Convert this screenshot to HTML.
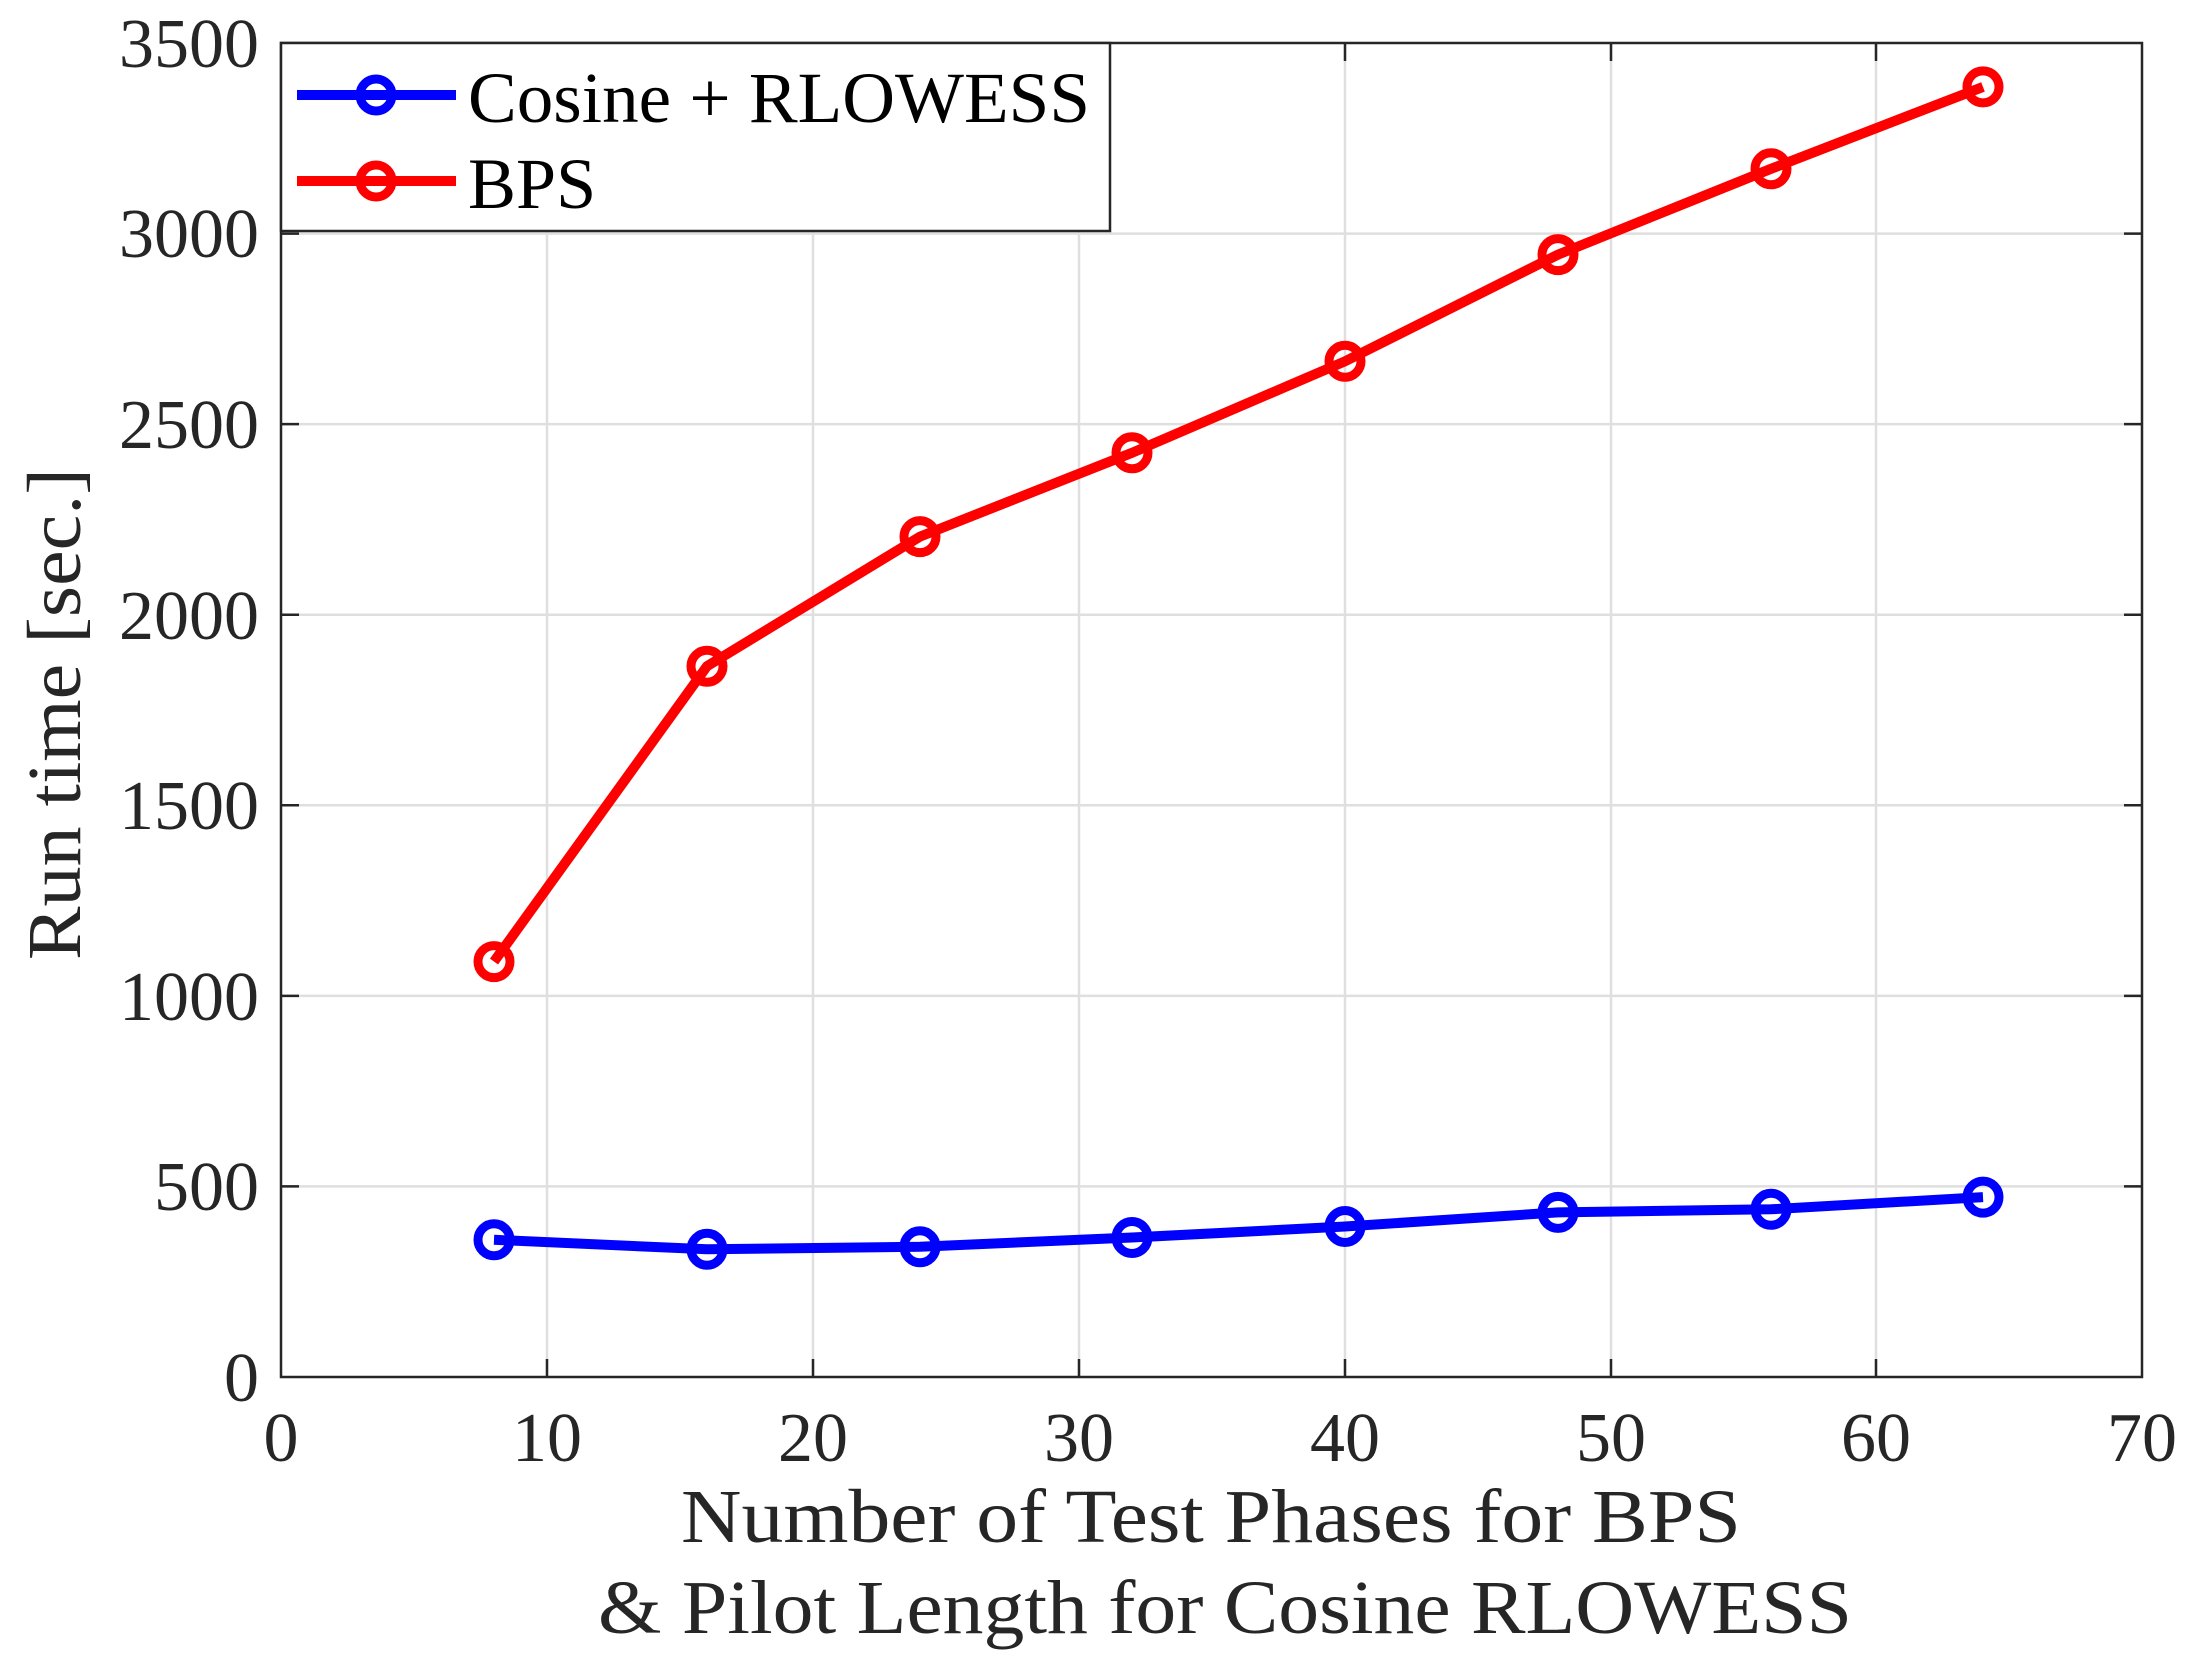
<!DOCTYPE html>
<html><head><meta charset="utf-8"><style>
html,body{margin:0;padding:0;background:#fff}
svg{display:block}
text{font-family:"Liberation Serif",serif;fill:#262626}
</style></head><body>
<svg width="2192" height="1659" viewBox="0 0 2192 1659" xmlns="http://www.w3.org/2000/svg">
<rect x="0" y="0" width="2192" height="1659" fill="#fff"/>
<g stroke="#dfdfdf" stroke-width="2.5">
<line x1="547" y1="43" x2="547" y2="1377"/><line x1="813" y1="43" x2="813" y2="1377"/>
<line x1="1079" y1="43" x2="1079" y2="1377"/><line x1="1345" y1="43" x2="1345" y2="1377"/>
<line x1="1611" y1="43" x2="1611" y2="1377"/><line x1="1876" y1="43" x2="1876" y2="1377"/>
<line x1="281" y1="1186.4" x2="2142" y2="1186.4"/><line x1="281" y1="995.9" x2="2142" y2="995.9"/>
<line x1="281" y1="805.3" x2="2142" y2="805.3"/><line x1="281" y1="614.7" x2="2142" y2="614.7"/>
<line x1="281" y1="424.1" x2="2142" y2="424.1"/><line x1="281" y1="233.6" x2="2142" y2="233.6"/>
</g>
<g stroke="#262626" stroke-width="2.5">
<rect x="281" y="43" width="1861" height="1334" fill="none"/>
<path d="M547 1377v-18M813 1377v-18M1079 1377v-18M1345 1377v-18M1611 1377v-18M1876 1377v-18M547 43v18M813 43v18M1079 43v18M1345 43v18M1611 43v18M1876 43v18"/>
<path d="M281 1186.4h18M281 995.9h18M281 805.3h18M281 614.7h18M281 424.1h18M281 233.6h18M2142 1186.4h-18M2142 995.9h-18M2142 805.3h-18M2142 614.7h-18M2142 424.1h-18M2142 233.6h-18"/>
</g>
<g font-size="70" text-anchor="end">
<text x="259" y="1401">0</text><text x="259" y="1210">500</text><text x="259" y="1020">1000</text>
<text x="259" y="829">1500</text><text x="259" y="639">2000</text><text x="259" y="448">2500</text>
<text x="259" y="257">3000</text><text x="259" y="67">3500</text>
</g>
<g font-size="70" text-anchor="middle">
<text x="281" y="1461">0</text><text x="547" y="1461">10</text><text x="813" y="1461">20</text>
<text x="1079" y="1461">30</text><text x="1345" y="1461">40</text><text x="1611" y="1461">50</text>
<text x="1876" y="1461">60</text><text x="2142" y="1461">70</text>
</g>
<text x="681" y="1542" font-size="76" textLength="1060" lengthAdjust="spacingAndGlyphs">Number of Test Phases for BPS</text>
<text x="598" y="1633" font-size="76" textLength="1254" lengthAdjust="spacingAndGlyphs">&amp; Pilot Length for Cosine RLOWESS</text>
<text transform="translate(80,960) rotate(-90)" font-size="76" textLength="492" lengthAdjust="spacingAndGlyphs">Run time [sec.]</text>
<g fill="none" stroke-linejoin="round">
<polyline stroke="#ff0000" stroke-width="10" points="494,961.6 707,666.2 920,536.6 1132,452.8 1345,361.3 1558,254.6 1771,168.8 1983,86.9"/>
<g stroke="#ff0000" stroke-width="9">
<circle cx="494" cy="961.6" r="16"/><circle cx="707" cy="666.2" r="16"/><circle cx="920" cy="536.6" r="16"/><circle cx="1132" cy="452.8" r="16"/>
<circle cx="1345" cy="361.3" r="16"/><circle cx="1558" cy="254.6" r="16"/><circle cx="1771" cy="168.8" r="16"/><circle cx="1983" cy="86.9" r="16"/>
</g>
<polyline stroke="#0000ff" stroke-width="10" points="494,1239.8 707,1249.3 920,1246.7 1132,1237.5 1345,1226.5 1558,1212.4 1771,1209.3 1983,1197.1"/>
<g stroke="#0000ff" stroke-width="9">
<circle cx="494" cy="1239.8" r="16"/><circle cx="707" cy="1249.3" r="16"/><circle cx="920" cy="1246.7" r="16"/><circle cx="1132" cy="1237.5" r="16"/>
<circle cx="1345" cy="1226.5" r="16"/><circle cx="1558" cy="1212.4" r="16"/><circle cx="1771" cy="1209.3" r="16"/><circle cx="1983" cy="1197.1" r="16"/>
</g>
</g>
<rect x="281" y="43" width="829" height="188" fill="#fff" stroke="#262626" stroke-width="2.5"/>
<line x1="297" y1="95" x2="456" y2="95" stroke="#0000ff" stroke-width="10"/>
<circle cx="376" cy="95" r="16" fill="none" stroke="#0000ff" stroke-width="9"/>
<line x1="297" y1="181" x2="456" y2="181" stroke="#ff0000" stroke-width="10"/>
<circle cx="376" cy="181" r="16" fill="none" stroke="#ff0000" stroke-width="9"/>
<text x="468" y="122" font-size="72" textLength="622" lengthAdjust="spacingAndGlyphs" style="fill:#000">Cosine + RLOWESS</text>
<text x="468" y="208" font-size="72" style="fill:#000">BPS</text>
</svg>
</body></html>
